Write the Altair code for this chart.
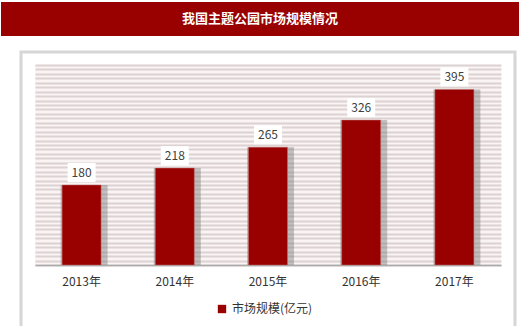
import altair as alt
import pandas as pd

years = ["2013年", "2014年", "2015年", "2016年", "2017年"]
values = [180, 218, 265, 326, 395]
series_name = "市场规模(亿元)"
title_text = "我国主题公园市场规模情况"
grid_values = list(range(0, 451, 10))

df = pd.DataFrame({"year": years, "value": values, "series": [series_name] * len(years)})
tdf = pd.DataFrame({"t": [title_text]})

FONT = "Noto Sans CJK SC"
W, H = 466, 200

x = alt.X("year:N", sort=years, scale=alt.Scale(paddingInner=0.58, paddingOuter=0.29),
          axis=alt.Axis(title=None, labelAngle=0, labelFontSize=12, labelColor="#333333",
                        labelFont=FONT, labelPadding=11, ticks=False, domainColor="#aaaaaa",
                        domainWidth=1.5))
y = alt.Y("value:Q", scale=alt.Scale(domain=[0, 450], nice=False),
          axis=alt.Axis(title=None, labels=False, ticks=False, domain=False, values=grid_values,
                        grid=True, gridColor="#dcd2d2", gridWidth=2))

base = alt.Chart(df)

title_bar = alt.Chart(tdf).mark_rect(color="#990000").encode(
    x=alt.value(-34), x2=alt.value(484), y=alt.value(-63), y2=alt.value(-29))
title_txt = alt.Chart(tdf).mark_text(color="white", fontSize=13, fontWeight="bold", font=FONT,
                                     align="center", baseline="middle").encode(
    x=alt.value(225), y=alt.value(-46), text="t:N")
panel = alt.Chart(tdf).mark_rect(fillOpacity=0, stroke="#d6d6d6", strokeWidth=3).encode(
    x=alt.value(-14), x2=alt.value(480), y=alt.value(-13), y2=alt.value(275))

shadow = base.mark_bar(size=47, color="#707070", opacity=0.4, xOffset=2.5).encode(x=x, y=y)
bars = base.mark_bar(size=39, stroke="#c07070", strokeWidth=0.5).encode(
    x=x, y=y,
    color=alt.Color("series:N", scale=alt.Scale(range=["#990000"]),
                    legend=alt.Legend(orient="none", legendX=181, legendY=238, title=None,
                                      symbolType="square", symbolSize=70, labelFontSize=12,
                                      labelFont=FONT, labelColor="#333333", symbolStrokeWidth=0)))
boxes = base.mark_tick(orient="horizontal", color="white", size=28, thickness=19, opacity=1,
                       yOffset=-12.5).encode(x=x, y=y)
labels = base.mark_text(fontSize=12, color="#404040", font=FONT, baseline="middle",
                        yOffset=-12.5).encode(x=x, y=y, text="value:Q")

chart = alt.layer(title_bar, title_txt, panel, shadow, bars, boxes, labels).properties(
    width=W, height=H,
    autosize=alt.AutoSizeParams(type="none"),
    padding={"left": 35, "top": 65, "right": 19, "bottom": 61},
    background="white",
).configure_view(fill="#fbf4f4", stroke=None)

chart.save("out.html", embed_options={"renderer": "svg", "actions": False})
